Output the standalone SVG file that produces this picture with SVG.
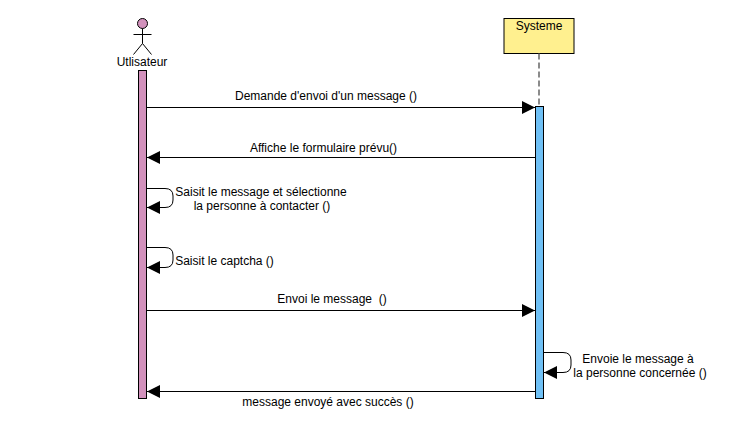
<svg xmlns="http://www.w3.org/2000/svg" width="730" height="435" viewBox="0 0 730 435">
<style>
text{font-family:"Liberation Sans",Arial,sans-serif;font-size:12px;fill:#000;text-anchor:middle}
.c{fill:none;stroke:#000;stroke-width:1}
.b{stroke:#000;stroke-width:1}
</style>
<defs>
<marker id="a" markerUnits="userSpaceOnUse" markerWidth="14" markerHeight="14" refX="13" refY="7" orient="auto"><path d="M0 0.5L13 7L0 13.5Z" fill="#000"/></marker>
</defs>
<rect width="730" height="435" fill="#fff"/>
<g id="utilisateur">
<circle cx="142.500" cy="23.500" r="5" fill="#d291bc" stroke="#000"/>
<path class="c" d="M142.500 28.500V43.500M133.500 34.500H151.500M133.500 54.500L142.500 43.500L151.500 54.500"/>
<text x="142" y="66">Utlisateur</text>
<rect class="b" x="138.500" y="70.500" width="8" height="328" fill="#d291bc"/>
</g>
<g id="systeme">
<rect class="b" x="504" y="18.500" width="70" height="35" fill="#fff08f"/>
<text x="539" y="30">Systeme</text>
<path d="M539 53.500V106.500" fill="none" stroke="#666" stroke-width="1.500" stroke-dasharray="6 3"/>
<rect class="b" x="535.500" y="106.500" width="8" height="292" fill="#6fc0f5"/>
</g>
<g id="connectors">
<path class="c" marker-end="url(#a)" d="M146 107.500H535"/>
<path class="c" marker-end="url(#a)" d="M535 157.500H147"/>
<path class="c" marker-end="url(#a)" d="M147 188.500H165Q173 188.500 173 196V200Q173 207.500 165 207.500H147"/>
<path class="c" marker-end="url(#a)" d="M147 247.500H165Q173 247.500 173 255V260Q173 267.500 165 267.500H147"/>
<path class="c" marker-end="url(#a)" d="M146 310.500H535"/>
<path class="c" marker-end="url(#a)" d="M544 352.500H563Q571 352.500 571 360V365Q571 372.500 563 372.500H544"/>
<path class="c" marker-end="url(#a)" d="M535 391.500H147"/>
</g>
<g id="labels">
<text x="326" y="100">Demande d'envoi d'un message ()</text>
<text x="323.500" y="152">Affiche le formulaire prévu()</text>
<text x="261" y="196">Saisit le message et sélectionne</text>
<text x="262" y="210">la personne à contacter ()</text>
<text x="224.500" y="265">Saisit le captcha ()</text>
<text x="332" y="303" xml:space="preserve">Envoi le message  ()</text>
<text x="638" y="363">Envoie le message à</text>
<text x="640" y="377">la personne concernée ()</text>
<text x="328" y="406">message envoyé avec succès ()</text>
</g>
</svg>
